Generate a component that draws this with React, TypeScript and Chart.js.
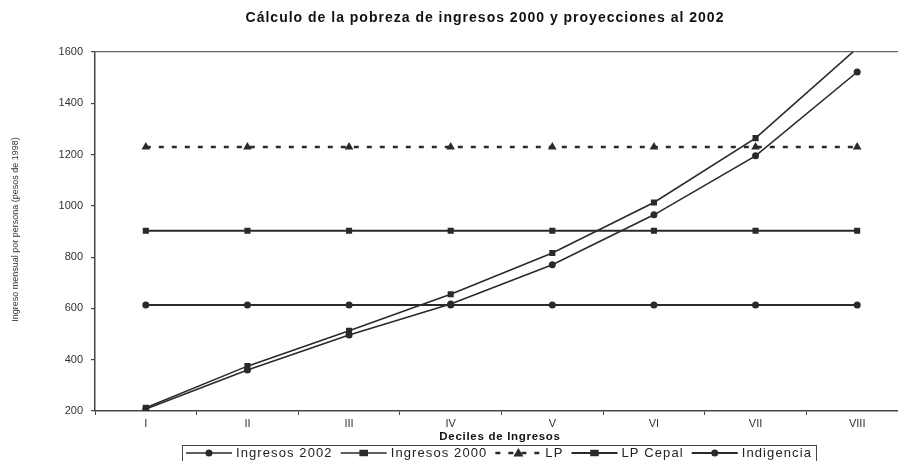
import React, { useEffect, useRef } from "react";
import { Chart, registerables } from "chart.js";

Chart.register(...registerables);

const TITLE = "Cálculo de la pobreza de ingresos 2000 y proyecciones al 2002";
const Y_TITLE = "Ingreso mensual por persona (pesos de 1998)";
const X_TITLE = "Deciles de Ingresos";

const deciles = ["I", "II", "III", "IV", "V", "VI", "VII", "VIII"];
const ingresos2002 = [208, 360, 496, 617, 770, 965, 1195, 1522];
const ingresos2000 = [213, 375, 513, 655, 816, 1013, 1264, 1615];
const lp = [1230, 1230, 1230, 1230, 1230, 1230, 1230, 1230];
const lpCepal = [903, 903, 903, 903, 903, 903, 903, 903];
const indigencia = [613, 613, 613, 613, 613, 613, 613, 613];

const yTicks = [200, 400, 600, 800, 1000, 1200, 1400, 1600];

const FONT = "'Liberation Sans', Arial, sans-serif";
const INK = "#2a2a2a";

const decorPlugin = {
  id: "decor",
  afterDraw(chart: any) {
    const ctx = chart.ctx as CanvasRenderingContext2D;
    const area = chart.chartArea;
    ctx.save();
    // title
    ctx.fillStyle = "#111";
    ctx.font = `bold 14px ${FONT}`;
    (ctx as any).letterSpacing = "1px";
    ctx.textAlign = "center";
    ctx.textBaseline = "middle";
    ctx.fillText(TITLE, 485, 18);
    // x title
    ctx.font = `bold 11.5px ${FONT}`;
    (ctx as any).letterSpacing = "0.7px";
    ctx.fillText(X_TITLE, 500, 437);
    // y title
    ctx.save();
    ctx.translate(16, (area.top + area.bottom) / 2 - 2);
    ctx.rotate(-Math.PI / 2);
    ctx.font = `9px ${FONT}`;
    (ctx as any).letterSpacing = "0px";
    ctx.fillStyle = "#333";
    ctx.fillText(Y_TITLE, 0, 0);
    ctx.restore();

    // legend
    ctx.font = `13px ${FONT}`;
    (ctx as any).letterSpacing = "1.1px";
    ctx.textAlign = "left";
    const sampleW = 46;
    const items = chart.data.datasets.map((ds: any) => ({
      ds,
      w: ctx.measureText(ds.label).width,
    }));
    const gapIn = 4;
    const gapOut = 8;
    let total = 4;
    items.forEach((it: any, i: number) => {
      total += sampleW + gapIn + it.w + (i < items.length - 1 ? gapOut : 4);
    });
    const cx = 499;
    const cy = 453;
    let x = cx - total / 2;
    ctx.strokeStyle = "#444";
    ctx.lineWidth = 1;
    ctx.strokeRect(Math.round(x) + 0.5, 445.5, Math.round(total), 18);
    x += 4;
    items.forEach((it: any) => {
      const ds = it.ds;
      ctx.save();
      ctx.strokeStyle = ds.borderColor;
      ctx.lineWidth = ds.borderWidth;
      ctx.setLineDash(ds.borderDash || []);
      ctx.beginPath();
      ctx.moveTo(x, cy);
      ctx.lineTo(x + sampleW, cy);
      ctx.stroke();
      ctx.setLineDash([]);
      ctx.fillStyle = ds.pointBackgroundColor;
      const mx = x + sampleW / 2;
      const r = ds.pointRadius;
      ctx.beginPath();
      if (ds.pointStyle === "rect") {
        ctx.rect(mx - r, cy - r * 0.75, r * 2, r * 1.5);
      } else if (ds.pointStyle === "triangle") {
        ctx.moveTo(mx, cy - r);
        ctx.lineTo(mx + r, cy + r * 0.7);
        ctx.lineTo(mx - r, cy + r * 0.7);
        ctx.closePath();
      } else {
        ctx.arc(mx, cy, r, 0, Math.PI * 2);
      }
      ctx.fill();
      ctx.restore();
      x += sampleW + gapIn;
      ctx.fillStyle = "#222";
      ctx.textBaseline = "middle";
      ctx.fillText(ds.label, x, cy + 0.5);
      x += it.w + gapOut;
    });
    ctx.restore();
  },
};

export default function App() {
  const ref = useRef<HTMLCanvasElement | null>(null);

  useEffect(() => {
    if (!ref.current) return;
    const mk = (label: string, data: number[], style: string, r: number, width: number, dash?: number[]) => ({
      label,
      data,
      borderColor: INK,
      backgroundColor: INK,
      pointBackgroundColor: INK,
      pointBorderColor: INK,
      pointBorderWidth: 0,
      pointStyle: style,
      pointRadius: r,
      borderWidth: width,
      borderDash: dash,
      tension: 0,
      fill: false,
    });
    const chart = new Chart(ref.current, {
      type: "line",
      data: {
        labels: deciles,
        datasets: [
          mk("Ingresos 2002", ingresos2002, "circle", 3.5, 1.6),
          mk("Ingresos 2000", ingresos2000, "rect", 4.3, 1.6),
          mk("LP", lp, "triangle", 5, 2.5, [5, 8]),
          mk("LP Cepal", lpCepal, "rect", 4.3, 2),
          mk("Indigencia", indigencia, "circle", 3.5, 2),
        ] as any,
      },
      options: {
        animation: false,
        responsive: false,
        maintainAspectRatio: false,
        layout: { padding: { top: 52, right: 12, bottom: 0, left: 0 } },
        plugins: {
          legend: { display: false },
          title: { display: false },
          tooltip: { enabled: false },
        },
        scales: {
          x: {
            type: "category",
            offset: true,
            afterFit: (s: any) => {
              s.height = 50;
            },
            grid: {
              display: true,
              offset: true,
              drawOnChartArea: false,
              color: "transparent",
              tickColor: "#444",
              tickLength: 4,
            },
            border: { display: true, color: "#444", width: 1.5 },
            ticks: {
              color: "#333",
              font: { family: FONT, size: 11 },
              padding: 2,
              maxRotation: 0,
            },
          },
          y: {
            min: 200,
            max: 1600,
            afterFit: (s: any) => {
              s.width = 95;
            },
            afterBuildTicks: (s: any) => {
              s.ticks = yTicks.map((v) => ({ value: v }));
            },
            grid: {
              display: true,
              color: (c: any) => (c.tick && c.tick.value === 1600 ? "#666" : "transparent"),
              lineWidth: 1.2,
              tickColor: "#444",
              tickLength: 4,
            },
            border: { display: true, color: "#444", width: 1.5 },
            ticks: {
              color: "#333",
              font: { family: FONT, size: 11 },
              padding: 8,
              callback: (v: any) => String(v),
            },
          },
        },
      },
      plugins: [decorPlugin],
    } as any);
    return () => chart.destroy();
  }, []);

  return (
    <div style={{ position: "fixed", left: 0, top: 0, width: 898, height: 461, overflow: "hidden", background: "#fff" }}>
      <canvas ref={ref} width={920} height={461} style={{ width: 920, height: 461, display: "block" }} />
    </div>
  );
}
